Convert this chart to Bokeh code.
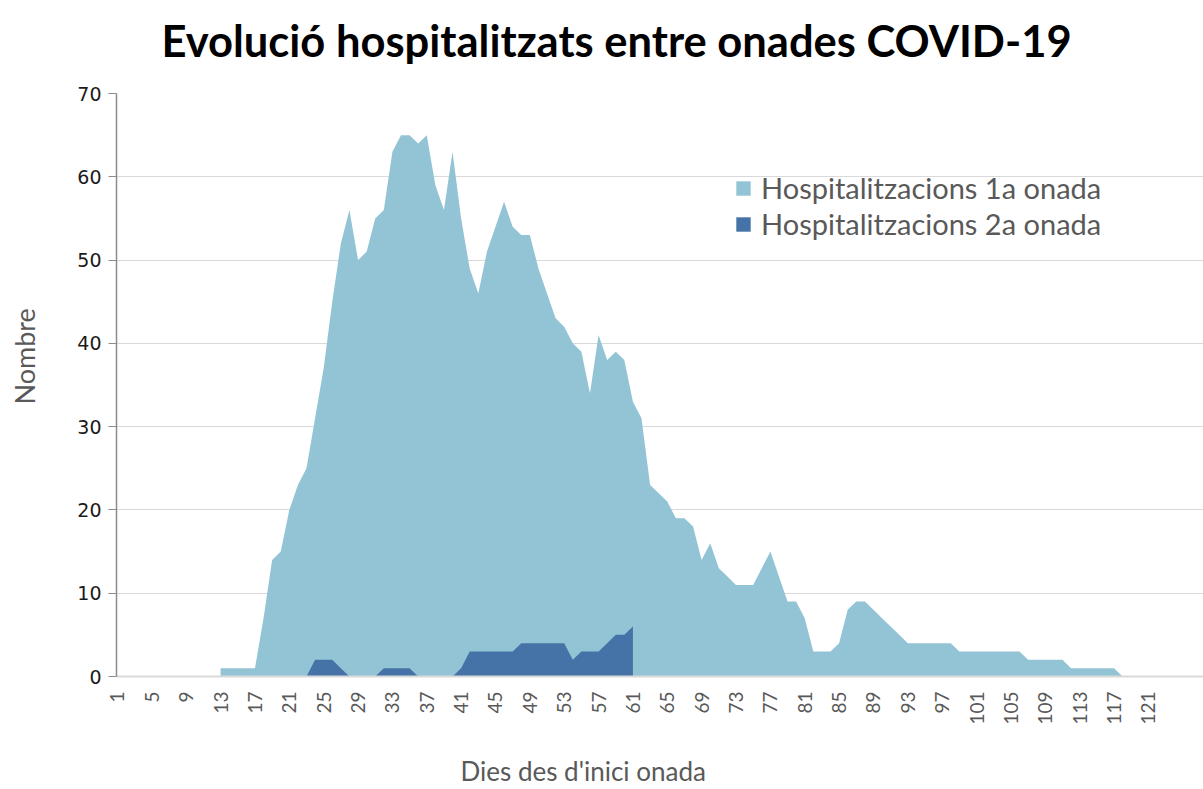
import math
from bokeh.plotting import figure
from bokeh.models import Range1d, FixedTicker, Legend, LegendItem, Title
from bokeh.embed import file_html
from bokeh.resources import INLINE

titol = "Evolució hospitalitzats entre onades COVID-19"
eix_x = "Dies des d'inici onada"
eix_y = "Nombre"
serie_1 = "Hospitalitzacions 1a onada"
serie_2 = "Hospitalitzacions 2a onada"

# 1a onada: from day 13 to day 118
primer_dia_1a = 13
onada_1a = [
    1, 1, 1, 1, 1,
    7, 14, 15, 20, 23, 25, 31, 37, 45, 52,
    56, 50, 51, 55, 56, 63, 65, 65, 64, 65,
    59, 56, 63, 55, 49, 46, 51, 54, 57, 54,
    53, 53, 49, 46, 43, 42, 40, 39, 34, 41,
    38, 39, 38, 33, 31, 23, 22, 21, 19, 19,
    18, 14, 16, 13, 12, 11, 11, 11, 13, 15,
    12, 9, 9, 7, 3, 3, 3, 4, 8, 9,
    9, 8, 7, 6, 5, 4, 4, 4, 4, 4,
    4, 3, 3, 3, 3, 3, 3, 3, 3, 2,
    2, 2, 2, 2, 1, 1, 1, 1, 1, 1,
    0,
]

# 2a onada: from day 1 to day 61
primer_dia_2a = 1
onada_2a = [
    0, 0, 0, 0, 0, 0, 0, 0, 0, 0,
    0, 0, 0, 0, 0, 0, 0, 0, 0, 0,
    0, 0, 0, 2, 2, 2, 1, 0, 0, 0,
    0, 1, 1, 1, 1, 0, 0, 0, 0, 0,
    1, 3, 3, 3, 3, 3, 3, 4, 4, 4,
    4, 4, 4, 2, 3, 3, 3, 4, 5, 5,
    6,
]

ticks_x = [1, 5, 9, 13, 17, 21, 25, 29, 33, 37, 41, 45, 49, 53, 57, 61,
           65, 69, 73, 77, 81, 85, 89, 93, 97, 101, 105, 109, 113, 117, 121]
ticks_y = [0, 10, 20, 30, 40, 50, 60, 70]

dies_1a = list(range(primer_dia_1a, primer_dia_1a + len(onada_1a)))
dies_2a = list(range(primer_dia_2a, primer_dia_2a + len(onada_2a)))

GRAY_TXT = "#595959"

p = figure(width=1203, height=789, output_backend="svg", toolbar_location=None,
           title=None,
           x_range=Range1d(0.8836, 127.42), y_range=Range1d(0, 70),
           min_border_left=116, min_border_right=0, min_border_top=93, min_border_bottom=113,
           outline_line_color=None, background_fill_color="white")

r1 = p.varea(x=dies_1a, y1=0, y2=onada_1a, fill_color="#93C4D5")
r2 = p.varea(x=dies_2a, y1=0, y2=onada_2a, fill_color="#4573A7")

# axes
p.xaxis.ticker = FixedTicker(ticks=ticks_x)
p.xaxis.major_label_orientation = math.pi / 2
p.xaxis.major_tick_out = 0
p.xaxis.major_tick_in = 0
p.xaxis.minor_tick_line_color = None
p.xaxis.axis_line_color = "#D9D9D9"
p.xaxis.axis_line_width = 2
p.xaxis.major_label_standoff = 15
p.xaxis.major_label_text_font = "Lato"
p.xaxis.major_label_text_font_size = "19px"
p.xaxis.major_label_text_color = GRAY_TXT

p.yaxis.ticker = FixedTicker(ticks=ticks_y)
p.yaxis.major_tick_out = 8
p.yaxis.major_tick_in = 0
p.yaxis.minor_tick_line_color = None
p.yaxis.axis_line_color = "#8C8C8C"
p.yaxis.major_tick_line_color = "#8C8C8C"
p.yaxis.axis_line_width = 1.5
p.yaxis.major_label_standoff = 7
p.yaxis.major_label_text_font = "DejaVu Sans"
p.yaxis.major_label_text_font_size = "19px"
p.yaxis.major_label_text_color = "#1a1a1a"

p.xgrid.visible = False
p.ygrid.ticker = FixedTicker(ticks=ticks_y)
p.ygrid.grid_line_color = "#D9D9D9"
p.ygrid.grid_line_width = 1

legend = Legend(items=[LegendItem(label=serie_1, renderers=[r1]),
                       LegendItem(label=serie_2, renderers=[r2])],
                location=(618, 435), glyph_width=18, glyph_height=18,
                label_height=30, spacing=1, padding=0, margin=0, label_standoff=9,
                label_text_font="Lato", label_text_font_size="29px",
                label_text_color=GRAY_TXT, border_line_color=None,
                background_fill_alpha=0)
p.add_layout(legend)

# titles (first added = closest to the frame)
p.add_layout(Title(text=" ", text_font_size="10px", standoff=10), "above")
p.add_layout(Title(text=titol, align="left", offset=45, vertical_align="bottom", standoff=10,
                   text_font="Lato", text_font_style="bold", text_font_size="43.5px",
                   text_color="black"), "above")

p.add_layout(Title(text=" ", text_font_size="1px", standoff=24), "below")
p.add_layout(Title(text=eix_x, align="left", offset=344, vertical_align="top", standoff=0,
                   text_font="Lato", text_font_style="normal", text_font_size="26px",
                   text_color=GRAY_TXT), "below")

p.add_layout(Title(text=" ", text_font_size="10px", standoff=18), "left")
p.add_layout(Title(text=eix_y, align="left", offset=272, vertical_align="middle", standoff=4,
                   text_font="Lato", text_font_style="normal", text_font_size="27px",
                   text_color=GRAY_TXT), "left")

open("out.html", "w").write(file_html(p, INLINE))
